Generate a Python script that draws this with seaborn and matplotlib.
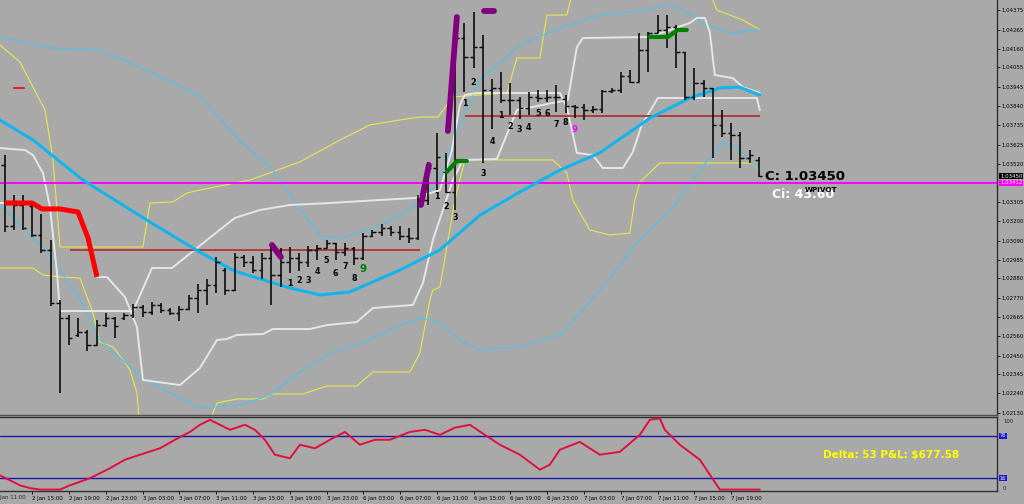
import matplotlib
matplotlib.use("Agg")
import matplotlib.pyplot as plt
import numpy as np
import pandas as pd
import seaborn as sns

BG = "#a9a9a9"
sns.set_theme(style="white", rc={"axes.facecolor": BG, "figure.facecolor": BG,
                                 "savefig.facecolor": BG})
plt.rcParams["font.family"] = ["DejaVu Sans"]

# ---------------- data ----------------
bar_open = [1.03512,1.03172,1.03289,1.03283,1.03122,1.03038,1.02743,1.02659,1.02565,1.02581,
1.02509,1.02620,1.02659,1.02659,1.02676,1.02721,1.02693,1.02732,1.02704,1.02687,
1.02710,1.02771,1.02815,1.02843,1.02927,1.02815,1.02999,1.02971,1.02927,1.02994,
1.02899,1.02971,1.02994,1.02971,1.03038,1.03049,1.03077,1.03027,1.03049,1.02994,
1.03116,1.03139,1.03161,1.03139,1.03116,1.03105,1.03317,1.03495,1.03473,1.03361,
1.04219,1.04114,1.04169,1.03930,1.03941,1.03874,1.03874,1.03829,1.03891,1.03885,
1.03891,1.03880,1.03841,1.03835,1.03818,1.03824,1.03924,1.03930,1.04008,1.03974,
1.04152,1.04247,1.04264,1.04281,1.04141,1.03891,1.03969,1.03941,1.03735,1.03690,
1.03679,1.03551,1.03540]
bar_high = [1.03567,1.03345,1.03345,1.03300,1.03239,1.03094,1.02760,1.02676,1.02659,1.02593,
1.02648,1.02687,1.02665,1.02687,1.02737,1.02732,1.02749,1.02743,1.02715,1.02726,
1.02788,1.02849,1.02877,1.02999,1.02938,1.03022,1.03010,1.03005,1.03022,1.03066,
1.03049,1.03055,1.03022,1.03060,1.03066,1.03094,1.03077,1.03077,1.03055,1.03133,
1.03150,1.03183,1.03172,1.03172,1.03161,1.03345,1.03528,1.03690,1.03579,1.04331,
1.04303,1.04364,1.04236,1.03991,1.04030,1.03969,1.03891,1.03918,1.03930,1.03930,
1.03958,1.03902,1.03846,1.03852,1.03841,1.03930,1.03941,1.04030,1.04041,1.04247,
1.04253,1.04347,1.04347,1.04292,1.04141,1.04052,1.03985,1.03941,1.03818,1.03746,
1.03695,1.03595,1.03556]
bar_low = [1.03139,1.03150,1.03150,1.03111,1.03022,1.02726,1.02242,1.02509,1.02554,1.02476,
1.02509,1.02609,1.02548,1.02648,1.02659,1.02665,1.02676,1.02687,1.02676,1.02643,
1.02704,1.02687,1.02732,1.02799,1.02788,1.02810,1.02943,1.02910,1.02877,1.02732,
1.02832,1.02910,1.02921,1.02943,1.02982,1.03049,1.02982,1.03005,1.02955,1.02982,
1.03111,1.03116,1.03116,1.03094,1.03077,1.03094,1.03289,1.03372,1.03356,1.03261,
1.03918,1.04052,1.03523,1.03712,1.03857,1.03790,1.03768,1.03790,1.03863,1.03863,
1.03807,1.03802,1.03774,1.03763,1.03802,1.03802,1.03913,1.03913,1.03969,1.03974,
1.04030,1.04247,1.04164,1.04052,1.03874,1.03874,1.03891,1.03551,1.03668,1.03540,
1.03495,1.03523,1.03445]
bar_close = [1.03172,1.03289,1.03161,1.03122,1.03038,1.02743,1.02659,1.02548,1.02581,1.02509,
1.02620,1.02659,1.02615,1.02676,1.02721,1.02693,1.02732,1.02704,1.02687,1.02710,
1.02771,1.02815,1.02843,1.02971,1.02815,1.02999,1.02971,1.02927,1.02994,1.02899,
1.02971,1.02994,1.02971,1.03038,1.03049,1.03077,1.03027,1.03049,1.02994,1.03116,
1.03139,1.03161,1.03139,1.03116,1.03105,1.03317,1.03495,1.03556,1.03361,1.04219,
1.04114,1.04169,1.03930,1.03941,1.03874,1.03874,1.03829,1.03891,1.03885,1.03891,
1.03891,1.03841,1.03835,1.03818,1.03824,1.03924,1.03930,1.04008,1.03974,1.04152,
1.04247,1.04264,1.04281,1.04141,1.03891,1.03969,1.03941,1.03735,1.03690,1.03679,
1.03551,1.03567,1.03450]

# moving average (thick blue)
ma_k = [-0.5,3.1,8.5,15.8,21.2,25.0,31.0,34.3,37.5,43.0,47.3,51.7,56.0,60.4,64.7,70.2,74.5,77.8,79.9,82.1]
ma_p = [1.03762,1.03651,1.03428,1.03194,1.03027,1.02921,1.02827,1.02788,1.02804,1.02927,
        1.03038,1.03233,1.03361,1.03484,1.03579,1.03774,1.03885,1.03941,1.03946,1.03902]
# bands (thin blue)
bbu_k = [-0.5,4.9,10.4,15.8,21.2,25.6,28.9,32.1,34.3,36.5,39.7,43.0,45.2,47.3,49.5,51.7,56.0,60.4,64.7,69.1,72.3,74.5,76.1,78.9,82.1]
bbu_p = [1.04225,1.04164,1.04152,1.04030,1.03896,1.03645,1.03501,1.03272,1.03116,1.03105,1.03150,
         1.03233,1.03306,1.03428,1.03740,1.03985,1.04180,1.04275,1.04347,1.04370,1.04409,1.04353,
         1.04297,1.04247,1.04264]
bbl_k = [-0.5,4.9,8.2,10.4,15.0,21.2,25.6,28.9,32.1,35.7,39.7,43.0,45.2,47.3,49.5,51.7,56.0,60.4,64.7,69.1,72.3,75.6,78.1,79.9,82.1]
bbl_p = [1.03289,1.03010,1.02760,1.02537,1.02325,1.02158,1.02175,1.02230,1.02359,1.02470,1.02537,
         1.02620,1.02659,1.02637,1.02537,1.02481,1.02498,1.02565,1.02810,1.03100,1.03250,1.03484,
         1.03640,1.03595,1.03484]
# channel lines (white)
w1_k = [-0.5,2.22,3.09,4.17,4.93,5.7,6.02,13.96,16.02,18.2,22.0,25.04,27.76,31.02,35.37,40.8,44.61,
        47.33,48.63,49.5,50.04,51.35,60.37,61.13,62.22,63.96,65.04,67.22,68.3,69.28,71.02,81.78,82.11]
w1_p = [1.03606,1.03595,1.03567,1.03467,1.03278,1.02910,1.02698,1.02698,1.02938,1.02938,1.03094,
        1.03217,1.03261,1.03289,1.03300,1.03317,1.03328,1.03372,1.03595,1.03846,1.03902,1.03913,
        1.03913,1.03835,1.03579,1.03567,1.03495,1.03495,1.03584,1.03735,1.03885,1.03885,1.03818]
w2_k = [-0.5,2.98,4.07,6.02,7.98,9.07,10.04,11.13,13.09,14.39,15.04,19.07,21.24,23.09,24.17,25.26,
        28.09,29.17,33.2,35.04,38.3,40.04,44.39,45.48,46.57,48.74,49.83,53.52,54.93,55.7,61.24,
        62.22,62.87,70.15,74.5,75.26,76.13,76.67,77.22,79.17,80.26,82.11]
w2_p = [1.03300,1.03300,1.03267,1.03267,1.03250,1.03105,1.02888,1.02888,1.02776,1.02609,1.02314,
        1.02286,1.02381,1.02537,1.02542,1.02565,1.02570,1.02598,1.02598,1.02620,1.02637,1.02715,
        1.02732,1.02854,1.03094,1.03428,1.03540,1.03545,1.03723,1.03818,1.03874,1.04169,1.04219,
        1.04225,1.04303,1.04331,1.04331,1.04253,1.04013,1.03996,1.03946,1.03913]
# envelope lines (yellow)
y1_k = [-0.5,1.67,4.39,4.93,5.26,6.02,15.04,15.8,18.3,19.83,21.24,26.67,32.11,36.46,39.72,42.98,
        45.15,47.11,48.74,54.61,55.7,58.2,58.96,61.13,61.67,75.59,77.0,77.43,80.26,82.11]
y1_p = [1.04180,1.04086,1.03818,1.03651,1.03540,1.03055,1.03055,1.03300,1.03306,1.03356,1.03372,
        1.03428,1.03529,1.03651,1.03735,1.03763,1.03779,1.03779,1.03891,1.03913,1.04108,1.04108,
        1.04347,1.04347,1.04459,1.04459,1.04431,1.04375,1.04320,1.04264]
y2_k = [-0.5,3.09,4.17,6.02,8.2,9.61,10.37,11.78,12.89,13.63,14.39,14.72,22.33,22.65,23.09,25.26,
        28.09,29.17,32.43,35.04,38.3,40.04,44.07,45.15,46.24,46.57,47.33,48.96,50.04,59.61,61.13,
        61.78,63.63,65.8,67.98,68.52,69.07,71.24,81.24,82.11]
y2_p = [1.02938,1.02938,1.02899,1.02888,1.02882,1.02687,1.02526,1.02498,1.02425,1.02370,1.02242,
        1.02035,1.02035,1.02130,1.02186,1.02208,1.02208,1.02236,1.02236,1.02281,1.02281,1.02359,
        1.02359,1.02464,1.02760,1.02815,1.02832,1.03317,1.03540,1.03540,1.03467,1.03317,1.03150,
        1.03122,1.03133,1.03317,1.03417,1.03523,1.03523,1.03484]
# trend highlights
red_k = [0.04,2.98,4.07,6.02,7.98,9.07,10.04]
red_p = [1.03300,1.03300,1.03267,1.03267,1.03250,1.03105,1.02888]
green_segs = [([48.09,49.17,50.26],[1.03473,1.03534,1.03534]),
              ([70.15,72.11,73.2,74.17],[1.04225,1.04225,1.04264,1.04264])]
purple_segs = [([29.07,30.04],[1.03066,1.02999]),
               ([45.26,46.13],[1.03289,1.03512]),
               ([48.2,49.17],[1.03701,1.04336]),
               ([52.11,53.2],[1.04370,1.04370])]
small_red_k = [1.02, 2.11]
small_red_p = [1.03941, 1.03941]
# horizontal levels
level1 = (7.1, 45.15, 1.03041)
level2 = (50.04, 82.11, 1.03785)
pivot_level = 1.03412
last_close = 1.03450
# TD counts
td1_k = list(range(31, 40))
td1_p = [1.02854,1.02866,1.02871,1.02916,1.02977,1.02910,1.02944,1.02882,1.02932]
td1_t = ["1","2","3","4","5","6","7","8","9"]
td2_k = [47,48,49,50,51,52,53,54,55,56,57,58,59,60,61,62]
td2_p = [1.03334,1.03278,1.03217,1.03852,1.03974,1.03462,1.03645,1.03785,1.03729,1.03707,
         1.03723,1.03796,1.03796,1.03740,1.03746,1.03707]
td2_t = ["1","2","3","1","2","3","4","1","2","3","4","5","6","7","8","9"]
# oscillator
osc_k = [-0.5,1.67,2.76,3.85,6.02,7.1,9.28,11.46,13.09,14.72,16.89,18.52,20.15,21.24,22.33,23.41,
         24.5,26.13,27.22,28.3,29.39,31.02,32.11,33.74,35.37,37.0,38.63,40.26,41.89,44.07,45.7,
         47.33,48.96,50.59,52.22,53.85,56.02,58.2,59.28,60.37,62.54,64.72,66.89,69.07,70.15,71.24,
         71.78,73.41,75.59,77.76,82.11]
osc_v = [20,6,2,0,0,6,16,30,42,49,58,70,81,91,98,91,84,91,84,70,49,44,63,58,70,81,63,70,70,81,84,
         77,87,91,77,63,49,28,35,56,67,49,53,77,98,100,84,63,42,0,0]
osc_levels = [76, 16]
# labels
price_ticks = [1.04375,1.04265,1.04160,1.04055,1.03945,1.03840,1.03735,1.03625,1.03520,1.03305,
               1.03200,1.03090,1.02985,1.02880,1.02770,1.02665,1.02560,1.02450,1.02345,1.02240,1.02130]
time_k = list(range(3, 80, 4))
time_labels = ["2 Jan 15:00","2 Jan 19:00","2 Jan 23:00","3 Jan 03:00","3 Jan 07:00","3 Jan 11:00",
               "3 Jan 15:00","3 Jan 19:00","3 Jan 23:00","6 Jan 03:00","6 Jan 07:00","6 Jan 11:00",
               "6 Jan 15:00","6 Jan 19:00","6 Jan 23:00","7 Jan 03:00","7 Jan 07:00","7 Jan 11:00",
               "7 Jan 15:00","7 Jan 19:00"]

# ---------------- figure ----------------
fig = plt.figure(figsize=(10.24, 5.04), dpi=100)
ax = fig.add_axes([0, 89/504, 997/1024, 415/504])
ax2 = fig.add_axes([0, 13/504, 997/1024, 74/504])
XL = (-0.5, 107.9)

def sline(a, xs, ys, color, lw, z, **kw):
    d = pd.DataFrame({"x": xs, "y": ys})
    sns.lineplot(data=d, x="x", y="y", ax=a, color=color, linewidth=lw, sort=False,
                 estimator=None, legend=False, zorder=z, **kw)

# indicator lines
sline(ax, y1_k, y1_p, "#e8e84a", 0.8, 2)
sline(ax, y2_k, y2_p, "#e8e84a", 0.8, 2)
sline(ax, bbu_k, bbu_p, "#4cc4f0", 0.8, 2)
sline(ax, bbl_k, bbl_p, "#4cc4f0", 0.8, 2)
sline(ax, w1_k, w1_p, "#e6e6e6", 1.4, 3)
sline(ax, w2_k, w2_p, "#e6e6e6", 1.4, 3)
sline(ax, ma_k, ma_p, "#12b4ee", 2.2, 4)

ax.axhline(pivot_level, color="#ff00ff", lw=1.4, zorder=3)
ax.hlines(level1[2], level1[0], level1[1], color="#b23a3a", lw=1.4, zorder=3)
ax.hlines(level2[2], level2[0], level2[1], color="#b23a3a", lw=1.4, zorder=3)

# OHLC bars
kk = np.arange(len(bar_open))
ax.vlines(kk, bar_low, bar_high, color="black", lw=1.1, zorder=6)
ax.hlines(bar_open, kk - 0.38, kk, color="black", lw=1.0, zorder=6)
ax.hlines(bar_close, kk, kk + 0.38, color="black", lw=1.0, zorder=6)

# highlights
sline(ax, red_k, red_p, "#ff0000", 3.6, 7, solid_capstyle="butt")
for xs, ys in green_segs:
    sline(ax, xs, ys, "#008000", 3.0, 7)
for xs, ys in purple_segs:
    sline(ax, xs, ys, "#800080", 4.2, 7, solid_capstyle="round")
sline(ax, small_red_k, small_red_p, "#e02020", 1.5, 7)

# TD counts
for k, p, t in zip(td1_k, td1_p, td1_t):
    if t == "9":
        ax.text(k, p, t, color="#008000", fontsize=7.5, fontweight="bold", ha="center", va="center", zorder=8)
    else:
        ax.text(k, p, t, color="black", fontsize=5.8, fontweight="bold", ha="center", va="center", zorder=8)
for k, p, t in zip(td2_k, td2_p, td2_t):
    if k == 62:
        ax.text(k, p, t, color="#ff00ff", fontsize=6.2, fontweight="bold", ha="center", va="center", zorder=8)
    else:
        ax.text(k, p, t, color="black", fontsize=5.8, fontweight="bold", ha="center", va="center", zorder=8)

ax.text(82.65, last_close, "C: 1.03450", color="black", fontsize=9.5, fontweight="bold",
        ha="left", va="center", zorder=9)
ax.text(87.0, 1.03372, "WPIVOT", color="black", fontsize=5.2, fontweight="bold",
        ha="left", va="center", zorder=9)
ax.text(83.4, 1.03345, "Ci: 43.60", color="white", fontsize=9, fontweight="bold",
        ha="left", va="center", zorder=8)

ax.set_xlim(*XL)
ax.set_ylim(1.02119, 1.04431)
ax.set_xlabel(""); ax.set_ylabel("")
ax.set_xticks([])
ax.yaxis.tick_right()
ax.set_yticks(price_ticks)
ax.set_yticklabels([f"{v:.5f}" for v in price_ticks])
ax.tick_params(axis="y", which="both", right=True, length=2.2, width=0.6, labelsize=3.9,
               pad=1.0, colors="black")
for s in ["left", "top"]:
    ax.spines[s].set_visible(False)
ax.spines["right"].set_color("#303030"); ax.spines["right"].set_linewidth(1.0)
ax.spines["bottom"].set_color("#505050"); ax.spines["bottom"].set_linewidth(1.0)

ytr = ax.get_yaxis_transform()
ax.text(1.003, last_close, "1.03450", transform=ytr, fontsize=3.9, color="white", ha="left",
        va="center", bbox=dict(boxstyle="square,pad=0.15", fc="black", ec="none"), clip_on=False, zorder=10)
ax.text(1.003, pivot_level, "1.03412", transform=ytr, fontsize=3.9, color="white", ha="left",
        va="center", bbox=dict(boxstyle="square,pad=0.15", fc="#ff00ff", ec="none"), clip_on=False, zorder=10)

# oscillator panel
sline(ax2, osc_k, osc_v, "#e0103c", 1.4, 4)
for lv in osc_levels:
    ax2.axhline(lv, color="#1a1aa8", lw=1.0, zorder=3)
ax2.set_xlim(*XL)
ax2.set_ylim(-2, 102)
ax2.set_xlabel(""); ax2.set_ylabel("")
ax2.set_yticks([])
ax2.set_xticks(time_k)
ax2.set_xticklabels(time_labels, ha="left")
ax2.tick_params(axis="x", bottom=True, length=2.2, width=0.6, labelsize=3.9, pad=1.5, colors="black")
ax2.spines["left"].set_visible(False)
for s in ["right", "bottom", "top"]:
    ax2.spines[s].set_color("#303030"); ax2.spines[s].set_linewidth(1.0)
ax2.text(-1, -0.05, "2 Jan 11:00", transform=ax2.get_xaxis_transform(), fontsize=3.9, ha="left",
         va="top", clip_on=False)
ytr2 = ax2.get_yaxis_transform()
ax2.text(1.006, 96, "100", transform=ytr2, fontsize=3.9, ha="left", va="center", clip_on=False)
ax2.text(1.006, 2, "0", transform=ytr2, fontsize=3.9, ha="left", va="center", clip_on=False)
for lv in osc_levels:
    ax2.text(1.003, lv, str(lv), transform=ytr2, fontsize=3.6, color="white", ha="left", va="center",
             bbox=dict(boxstyle="square,pad=0.1", fc="#1a1ad0", ec="none"), clip_on=False)
ax2.text(89.0, 48, "Delta: 53 P&L: $677.58", color="#ffff00", fontsize=7.5, fontweight="bold",
         ha="left", va="center", zorder=8)

fig.savefig("out.png", dpi=100, facecolor=BG)
